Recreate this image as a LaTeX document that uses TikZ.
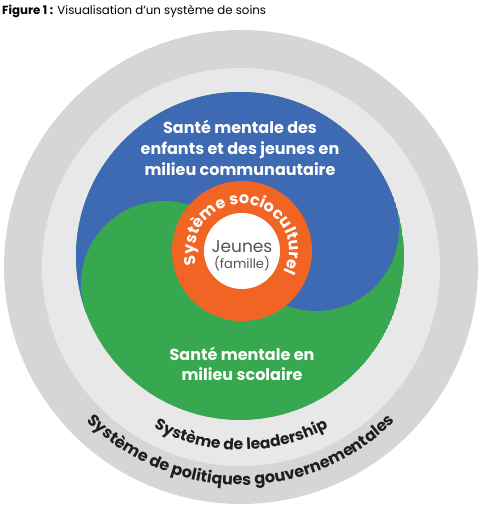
\documentclass[tikz,border=0pt]{standalone}
\usepackage{fontspec}
\setmainfont{Poppins}
\usetikzlibrary{decorations.text,calc}
\definecolor{outerg}{RGB}{213,215,214}
\definecolor{innerg}{RGB}{232,232,232}
\definecolor{bluec}{RGB}{61,106,178}
\definecolor{greenc}{RGB}{56,168,80}
\definecolor{orangec}{RGB}{241,100,36}
\definecolor{darkt}{RGB}{30,30,30}
\definecolor{grayt}{RGB}{85,85,85}
\tikzset{
  bigtext/.style={text=white, align=center, font=\bfseries\fontsize{16}{21}\selectfont},
}
\begin{document}
\begin{tikzpicture}[x=1pt,y=1pt]
\useasboundingbox (0,0) rectangle (480,508);
% title
\node[anchor=base west, inner sep=0pt, font=\fontsize{11.8}{13}\selectfont] (title) at (2,493) {\textbf{Figure 1 :} Visualisation d’un système de soins};
% rings
\coordinate (R) at (241,241);
\fill[outerg] (R) circle (237);
\fill[innerg] (R) circle (199);
% yin-yang
\coordinate (C) at (240,252);
\coordinate (G) at (164,224);
\coordinate (B) at (316,280);
\begin{scope}
  \clip (C) circle (164);
  \fill[greenc] (C) circle (164);
  \fill[bluec, rotate around={20.25:(C)}] ($(C)+(-200,0)$) rectangle ($(C)+(200,200)$);
  \fill[bluec] (B) circle (83);
  \fill[greenc] (G) circle (83);
\end{scope}
% centre
\coordinate (O) at (242,257);
\fill[orangec] (O) circle (70);
\fill[white] (O) circle (38);
% texts
\node[bigtext] (blue) at (240,360) {Santé mentale des\\enfants et des jeunes en\\milieu communautaire};
\node[bigtext, font=\bfseries\fontsize{16}{20}\selectfont] (green) at (242,144) {Santé mentale en\\milieu scolaire};
\node[text=grayt, font=\fontsize{17}{17}\selectfont, inner sep=0pt] (jeunes) at (242,261) {Jeunes};
\node[text=grayt, font=\fontsize{13}{13}\selectfont, inner sep=0pt] (famille) at (242,244) {(famille)};
\path[decorate, decoration={text along path, text align=center,
  text={|\color{white}\bfseries\fontsize{16}{16}\selectfont|Système socioculturel}}]
  ($(O)+(210:47)$) arc[start angle=210, end angle=-40, radius=47];
\path[decorate, decoration={text along path, text align=center,
  text={|\color{darkt}\bfseries\fontsize{15.5}{15.5}\selectfont|Système de leadership}}]
  ($(R)+(210:183)$) arc[start angle=210, end angle=330, radius=183];
\path[decorate, decoration={text along path, text align=center,
  text={|\color{darkt}\bfseries\fontsize{16}{16}\selectfont|Système de politiques gouvernementales}}]
  ($(R)+(190:218)$) arc[start angle=190, end angle=350, radius=218];
\end{tikzpicture}
\end{document}
